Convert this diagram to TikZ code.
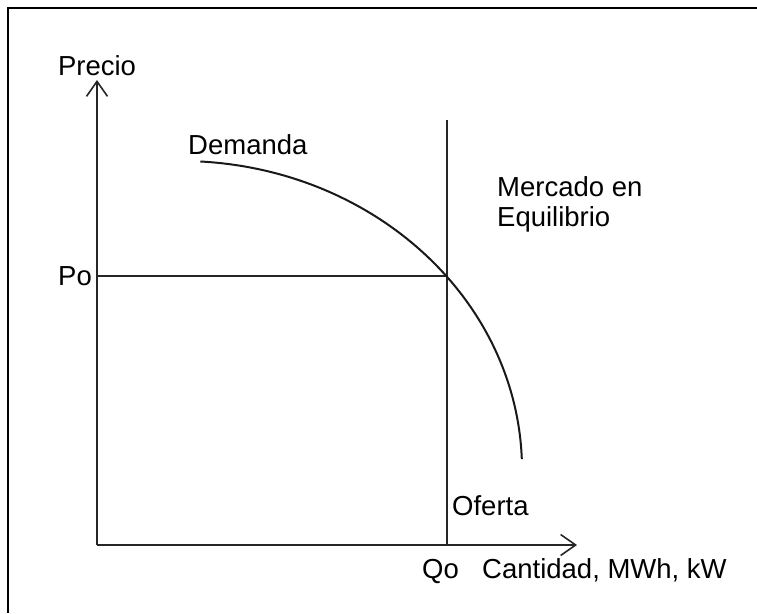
\documentclass[tikz,border=0pt]{standalone}
\usepackage{fontspec}
\setmainfont{Liberation Sans}
\usetikzlibrary{arrows.meta}
\begin{document}
\begin{tikzpicture}[x=1pt,y=1pt,
  lbl/.style={inner sep=0pt, anchor=base west, font=\fontsize{27.5}{33}\selectfont},
  axisline/.style={line width=1.6pt, draw=black!85, -{Straight Barb[length=15pt,width=21pt,line width=1.6pt]}},
  ln/.style={line width=1.6pt, draw=black!85},
  curve/.style={line width=2pt, draw=black!90},
  frame/.style={line width=2.5pt, draw=black}]
\useasboundingbox (0,0) rectangle (757,613);
% frame (left and top edges)
\coordinate (FB) at (8,0);
\coordinate (FC) at (8,605);
\coordinate (FR) at (757,605);
\draw[frame] (FB) -- (FC) -- (FR);
% axes
\coordinate (O) at (97,68);
\coordinate (Ytip) at (97,533);
\coordinate (Xtip) at (577,68);
\draw[axisline] (O) -- (Ytip);
\draw[axisline] (O) -- (Xtip);
% supply (vertical)
\coordinate (Stop) at (447,493);
\coordinate (Sbot) at (447,68);
\draw[ln] (Stop) -- (Sbot);
% price line
\coordinate (Pa) at (97,337);
\coordinate (E) at (447,337);
\draw[ln] (Pa) -- (E);
% demand curve
\coordinate (Dstart) at (200.3,451.5);
\draw[curve] (Dstart) arc[start angle=86.6, end angle=2, x radius=342, y radius=309];
% labels
\node[lbl, anchor=base] (precio) at (97,537) {Precio};
\node[lbl] (demanda) at (188,458) {Demanda};
\node[lbl] (mercado) at (497,416) {Mercado en};
\node[lbl] (equil) at (497,386) {Equilibrio};
\node[lbl, anchor=base east] (po) at (92,327) {Po};
\node[lbl] (qo) at (422,35) {Qo};
\node[lbl] (cant) at (482,35) {Cantidad, MWh, kW};
\node[lbl] (oferta) at (452,98) {Oferta};
\end{tikzpicture}
\end{document}
